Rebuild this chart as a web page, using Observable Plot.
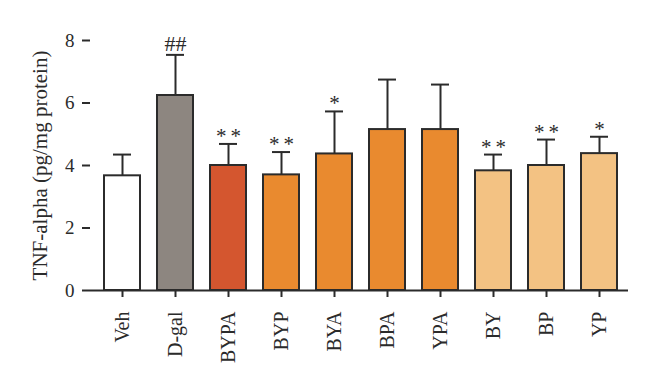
<!DOCTYPE html>
<html>
<head>
<meta charset="utf-8">
<script src="https://cdn.jsdelivr.net/npm/d3@7"></script>
<script src="https://cdn.jsdelivr.net/npm/@observablehq/plot@0.6"></script>
<style>
  html, body { margin: 0; padding: 0; background: #fff; }
  #chart svg { display: block; }
</style>
</head>
<body>
<div id="chart"></div>
<script>
const groups = ["Veh", "D-gal", "BYPA", "BYP", "BYA", "BPA", "YPA", "BY", "BP", "YP"];
const means  = [3.67, 6.24, 4.00, 3.70, 4.37, 5.15, 5.15, 3.83, 4.00, 4.38];
const errors = [0.68, 1.30, 0.69, 0.73, 1.36, 1.60, 1.44, 0.52, 0.83, 0.54];
const marks  = ["", "##", "*\u2009*", "*\u2009*", "*", "", "", "*\u2009*", "*\u2009*", "*"];
const fills  = ["#ffffff", "#8d8680", "#d4562f", "#e98a2f", "#e98a2f", "#e98a2f", "#e98a2f", "#f3c283", "#f3c283", "#f3c283"];
const yTicks = [0, 2, 4, 6, 8];
const yLabel = "TNF-alpha (pg/mg protein)";

const data = groups.map((g, i) => ({
  group: g, mean: means[i], upper: means[i] + errors[i], mark: marks[i], fill: fills[i]
}));

const ink = "#2b2b2b";
const font = "'Liberation Serif', 'Times New Roman', serif";

const chart = Plot.plot({
  width: 660,
  height: 389,
  marginLeft: 90,
  marginRight: 32,
  marginTop: 40,
  marginBottom: 99,
  style: { fontFamily: font, background: "#fff" },
  x: { domain: groups, paddingInner: 0.328, paddingOuter: 0.19, align: 0.55, label: null },
  y: { domain: [0, 8], label: null },
  marks: [
    Plot.ruleX(data, { x: "group", y1: "mean", y2: "upper", stroke: ink, strokeWidth: 2 }),
    Plot.tickY(data, { x: "group", y: "upper", stroke: ink, strokeWidth: 2, insetLeft: 9, insetRight: 9 }),
    Plot.barY(data, { x: "group", y: "mean", fill: "fill", stroke: ink, strokeWidth: 2 }),
    Plot.text(data.filter(d => d.mark.startsWith("*")), { x: "group", y: "upper", text: "mark", dy: -1,
      lineAnchor: "bottom", fontSize: 21, fill: ink, fontFamily: font }),
    Plot.text(data.filter(d => d.mark.startsWith("#")), { x: "group", y: "upper", text: "mark", dy: -4,
      lineAnchor: "bottom", fontSize: 22, fill: ink, fontFamily: font }),
    Plot.axisY({ ticks: yTicks, tickSize: 8, tickPadding: 8, fontSize: 19, stroke: ink,
      strokeWidth: 2, tickFormat: d => String(d), label: null, color: ink }),
    Plot.ruleX([0], { x: () => 0, stroke: ink, strokeWidth: 2, frameAnchor: "left" }),
    Plot.axisX({ tickSize: 7, tickPadding: 14, tickRotate: -90, fontSize: 20, stroke: ink,
      strokeWidth: 2, label: null, color: ink }),
    Plot.ruleY([0], { stroke: ink, strokeWidth: 2 }),
    Plot.text([yLabel], { frameAnchor: "left", dx: -50, rotate: -90, fontSize: 21,
      textAnchor: "middle", lineAnchor: "middle", fill: ink, fontFamily: font })
  ]
});
document.getElementById("chart").appendChild(chart);
</script>
</body>
</html>
